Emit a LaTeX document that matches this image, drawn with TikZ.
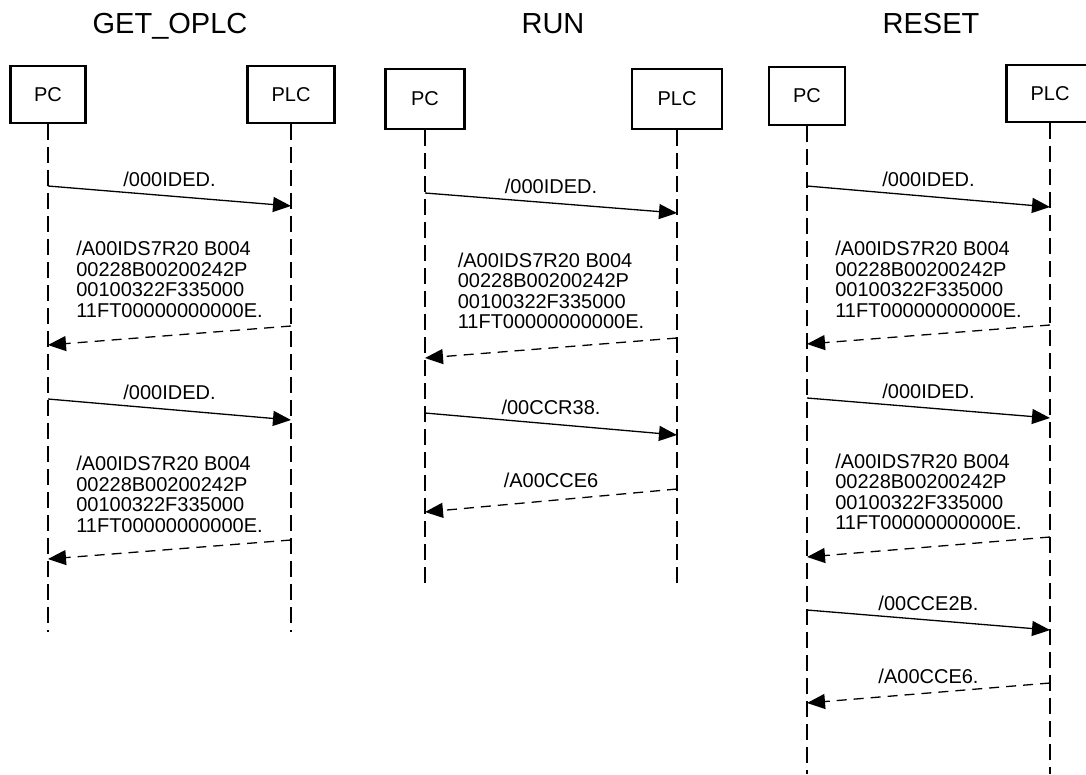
\documentclass[tikz,border=0pt]{standalone}
\usepackage{fontspec}
\setmainfont{Liberation Sans}
\usetikzlibrary{arrows.meta}

\newcommand{\idsreply}{/A00IDS7R20 B004\\00228B00200242P\\00100322F335000\\11FT00000000000E.}

\begin{document}
\begin{tikzpicture}
[
    x=1pt, y=-1pt,
    box/.style={draw, line width=2.4pt, minimum height=57pt, font=\fontsize{20}{20}\selectfont},
    title/.style={anchor=base, font=\fontsize{29}{29}\selectfont},
    life/.style={line width=1.3pt, dash pattern=on 16pt off 7pt},
    call/.style={line width=1.3pt, -{Triangle[length=18pt,width=15pt]}},
    reply/.style={call, dash pattern=on 10pt off 7pt},
    lbl/.style={font=\fontsize{20}{20}\selectfont, yshift=17pt},
    multi/.style={font=\fontsize{20}{20.5}\selectfont, align=left, yshift=55pt},
]
\clip (0,0) rectangle (1086,774);

% GET_OPLC
\node[title] (t1) at (170,33) {GET\_OPLC};
\node[box, minimum width=75pt] (pc1) at (48,94.5) {PC};
\node[box, minimum width=87pt] (plc1) at (291,94.5) {PLC};
\draw[life] (pc1.south) -- (pc1 |- 0,632);
\draw[life] (plc1.south) -- (plc1 |- 0,632);
\draw[call] (pc1 |- 0,186) -- node[lbl] {/000IDED.} (plc1 |- 0,206);
\draw[reply] (plc1 |- 0,326) -- node[multi, yshift=1pt] {\idsreply} (pc1 |- 0,345);
\draw[call] (pc1 |- 0,399) -- node[lbl] {/000IDED.} (plc1 |- 0,420);
\draw[reply] (plc1 |- 0,540) -- node[multi] {\idsreply} (pc1 |- 0,559);

% RUN
\node[title] (t2) at (553,33) {RUN};
\node[box, minimum width=79pt, minimum height=60pt] (pc2) at (425,99) {PC};
\node[box, minimum width=90pt, minimum height=60pt] (plc2) at (677,99) {PLC};
\draw[life] (pc2.south) -- (pc2 |- 0,586);
\draw[life] (plc2.south) -- (plc2 |- 0,586);
\draw[call] (pc2 |- 0,193) -- node[lbl] {/000IDED.} (plc2 |- 0,213);
\draw[reply] (plc2 |- 0,338) -- node[multi, yshift=2pt] {\idsreply} (pc2 |- 0,358);
\draw[call] (pc2 |- 0,413) -- node[lbl] {/00CCR38.} (plc2 |- 0,435);
\draw[reply] (plc2 |- 0,489) -- node[lbl, yshift=3pt] {/A00CCE6} (pc2 |- 0,512);

% RESET
\node[title] (t3) at (931,33) {RESET};
\node[box, minimum width=76pt, minimum height=58pt] (pc3) at (807,96) {PC};
\node[box, minimum width=87pt] (plc3) at (1050,93.5) {PLC};
\draw[life] (pc3.south) -- (pc3 |- 0,774);
\draw[life] (plc3.south) -- (plc3 |- 0,774);
\draw[call] (pc3 |- 0,186) -- node[lbl] {/000IDED.} (plc3 |- 0,207);
\draw[reply] (plc3 |- 0,325) -- node[multi] {\idsreply} (pc3 |- 0,344);
\draw[call] (pc3 |- 0,398) -- node[lbl] {/000IDED.} (plc3 |- 0,418);
\draw[reply] (plc3 |- 0,537) -- node[multi] {\idsreply} (pc3 |- 0,557);
\draw[call] (pc3 |- 0,610) -- node[lbl] {/00CCE2B.} (plc3 |- 0,630);
\draw[reply] (plc3 |- 0,683) -- node[lbl] {/A00CCE6.} (pc3 |- 0,703);
\end{tikzpicture}
\end{document}
